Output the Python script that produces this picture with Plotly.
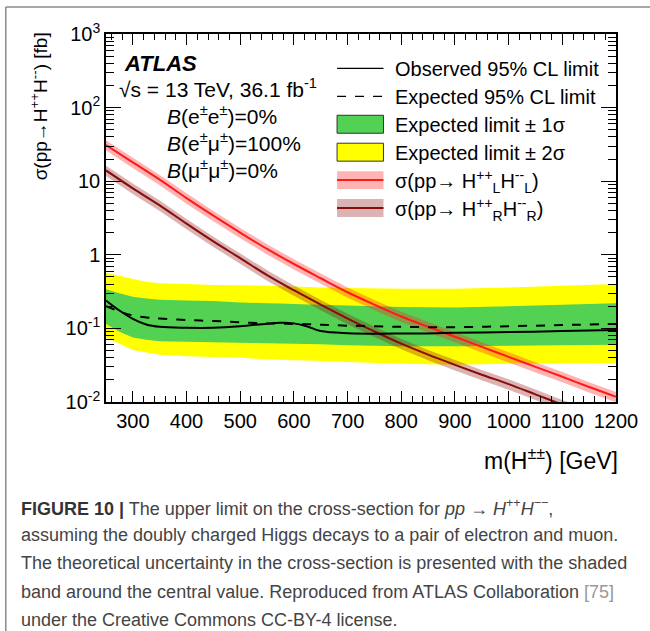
import plotly.graph_objects as go

# ---------------- data ----------------
mass_theory = [250, 300, 350, 400, 450, 500, 550, 600, 650, 700, 750, 800,
               850, 900, 950, 1000, 1050, 1100, 1150, 1200]
xsec_HL = [31, 18, 10.5, 5.9, 3.4, 2.0, 1.2, 0.75, 0.48, 0.31, 0.21, 0.145,
           0.105, 0.077, 0.056, 0.041, 0.030, 0.022, 0.016, 0.0118]
xsec_HR = [14, 8.0, 4.7, 2.65, 1.52, 0.90, 0.53, 0.33, 0.21, 0.136, 0.091, 0.062,
           0.044, 0.032, 0.0235, 0.0175, 0.0127, 0.0092, 0.0068, 0.0050]
theory_rel_unc = [0.16, 0.16, 0.16, 0.16, 0.16, 0.16, 0.16, 0.16, 0.16, 0.16,
                  0.16, 0.16, 0.16, 0.16, 0.16, 0.16, 0.16, 0.16, 0.16, 0.16]

mass_limit = [250, 275, 300, 325, 350, 400, 450, 500, 550, 575, 600, 625, 650,
              700, 800, 900, 1000, 1100, 1200]
observed = [0.24, 0.175, 0.135, 0.113, 0.105, 0.102, 0.102, 0.107, 0.116, 0.119,
            0.117, 0.106, 0.092, 0.086, 0.085, 0.087, 0.089, 0.092, 0.095]
expected = [0.20, 0.17, 0.150, 0.141, 0.136, 0.130, 0.126, 0.121, 0.117, 0.116,
            0.115, 0.114, 0.112, 0.109, 0.105, 0.104, 0.107, 0.111, 0.115]
exp_plus2 = [0.57, 0.52, 0.47, 0.43, 0.41, 0.40, 0.39, 0.385, 0.38, 0.375, 0.37,
             0.365, 0.36, 0.355, 0.345, 0.345, 0.36, 0.38, 0.40]
exp_plus1 = [0.34, 0.30, 0.27, 0.255, 0.245, 0.24, 0.235, 0.225, 0.22, 0.218, 0.215,
             0.212, 0.21, 0.205, 0.195, 0.192, 0.20, 0.21, 0.22]
exp_minus1 = [0.115, 0.09, 0.075, 0.07, 0.067, 0.066, 0.065, 0.064, 0.063, 0.0625,
              0.062, 0.0615, 0.061, 0.059, 0.057, 0.057, 0.058, 0.059, 0.060]
exp_minus2 = [0.075, 0.062, 0.051, 0.047, 0.044, 0.042, 0.041, 0.040, 0.038, 0.0375,
              0.037, 0.0365, 0.036, 0.035, 0.033, 0.032, 0.033, 0.0335, 0.034]

x_ticks = [300, 400, 500, 600, 700, 800, 900, 1000, 1100, 1200]
y_ticks = [0.01, 0.1, 1, 10, 100, 1000]
y_ticktext = ["10<sup>-2</sup>", "10<sup>-1</sup>", "1", "10", "10<sup>2</sup>", "10<sup>3</sup>"]

# ---------------- styling ----------------
FONT = "Liberation Sans, Arial, Helvetica, sans-serif"
W, H = 650, 631
L, R, T, B = 106, 622.5, 33.5, 402.5   # plot area in pixels

def X(px):
    return (px - L) / (R - L)

def Y(py):
    return (B - py) / (B - T)

GREEN = "#52d152"
YELLOW = "#ffff00"
RED = "#ff1a1a"
RED_BAND = "rgba(255,40,40,0.35)"
DARK = "#8b0a0a"
DARK_BAND = "rgba(140,20,20,0.32)"

fig = go.Figure()

def band(xs, lo, hi, color, name):
    fig.add_trace(go.Scatter(
        x=list(xs) + list(xs)[::-1],
        y=list(hi) + list(lo)[::-1],
        fill="toself", fillcolor=color, mode="none",
        line=dict(width=0), hoverinfo="skip", showlegend=False, name=name))

band(mass_limit, exp_minus2, exp_plus2, YELLOW, "2sigma")
band(mass_limit, exp_minus1, exp_plus1, GREEN, "1sigma")

hl_lo = [v * (1 - u) for v, u in zip(xsec_HL, theory_rel_unc)]
hl_hi = [v * (1 + u) for v, u in zip(xsec_HL, theory_rel_unc)]
hr_lo = [v * (1 - u) for v, u in zip(xsec_HR, theory_rel_unc)]
hr_hi = [v * (1 + u) for v, u in zip(xsec_HR, theory_rel_unc)]
band(mass_theory, hr_lo, hr_hi, DARK_BAND, "HR band")
band(mass_theory, hl_lo, hl_hi, RED_BAND, "HL band")

fig.add_trace(go.Scatter(x=mass_theory, y=xsec_HR, mode="lines",
                         line=dict(color=DARK, width=2, shape="spline"),
                         showlegend=False, hoverinfo="skip"))
fig.add_trace(go.Scatter(x=mass_theory, y=xsec_HL, mode="lines",
                         line=dict(color=RED, width=2, shape="spline"),
                         showlegend=False, hoverinfo="skip"))
fig.add_trace(go.Scatter(x=mass_limit, y=expected, mode="lines",
                         line=dict(color="black", width=2, dash="dash", shape="spline"),
                         showlegend=False, hoverinfo="skip"))
fig.add_trace(go.Scatter(x=mass_limit, y=observed, mode="lines",
                         line=dict(color="black", width=2, shape="spline"),
                         showlegend=False, hoverinfo="skip"))

# minor ticks for log axis
y_minor = []
for dec in [0.01, 0.1, 1, 10, 100]:
    for k in range(2, 10):
        y_minor.append(dec * k)

fig.update_xaxes(
    range=[250, 1200], tickmode="array", tickvals=x_ticks,
    ticks="inside", ticklen=11, tickwidth=1.3, tickcolor="black",
    minor=dict(ticks="inside", dtick=20, tick0=0, ticklen=6, tickwidth=1.1, tickcolor="black"),
    showline=True, linecolor="black", linewidth=1.5, mirror="ticks",
    showgrid=False, zeroline=False,
    tickfont=dict(family=FONT, size=20, color="black"),
)
fig.update_yaxes(
    type="log", range=[-2, 3], tickmode="array", tickvals=y_ticks, ticktext=y_ticktext,
    ticks="inside", ticklen=15, tickwidth=1.3, tickcolor="black",
    minor=dict(ticks="inside", tickmode="array", tickvals=y_minor, ticklen=8,
               tickwidth=1.1, tickcolor="black"),
    showline=True, linecolor="black", linewidth=1.5, mirror="ticks",
    showgrid=False, zeroline=False,
    tickfont=dict(family=FONT, size=20, color="black"),
)

ann = []
def text(px, py, s, size=19, xanchor="left", yanchor="middle", color="black", angle=0, family=FONT):
    ann.append(dict(x=X(px), y=Y(py), xref="paper", yref="paper", text=s,
                    showarrow=False, xanchor=xanchor, yanchor=yanchor, textangle=angle,
                    font=dict(family=family, size=size, color=color)))

# axis titles
text(38, 30, "σ(pp→H<sup>++</sup>H<sup>--</sup>) [fb]", size=19, xanchor="center",
     yanchor="top", angle=-90)
text(627, 460, "m(H<sup>±±</sup>) [GeV]", size=23, xanchor="right")

# ATLAS labels
text(122, 63, "<b><i>ATLAS</i></b>", size=22)
text(117, 88, "√s = 13 TeV, 36.1 fb<sup>-1</sup>", size=21)
text(166, 115, "<i>B</i>(e<sup>±</sup>e<sup>±</sup>)=0%", size=21)
text(166, 142, "<i>B</i>(e<sup>±</sup>μ<sup>±</sup>)=100%", size=21)
text(166, 169, "<i>B</i>(μ<sup>±</sup>μ<sup>±</sup>)=0%", size=21)

# legend
shapes = []
lx0, lx1, tx = 340, 387, 397
leg_y = [68, 96, 124, 152, 180, 208]
shapes.append(dict(type="line", xref="paper", yref="paper", x0=X(lx0), x1=X(lx1),
                   y0=Y(leg_y[0]), y1=Y(leg_y[0]), line=dict(color="black", width=1.2)))
shapes.append(dict(type="line", xref="paper", yref="paper", x0=X(lx0), x1=X(lx1),
                   y0=Y(leg_y[1]), y1=Y(leg_y[1]), line=dict(color="black", width=1.2, dash="dash")))
for yy, col in [(leg_y[2], GREEN), (leg_y[3], YELLOW)]:
    shapes.append(dict(type="rect", xref="paper", yref="paper", x0=X(lx0), x1=X(lx1),
                       y0=Y(yy - 9), y1=Y(yy + 9), fillcolor=col,
                       line=dict(color="#333333", width=1)))
for yy, bcol, lcol in [(leg_y[4], RED_BAND, RED), (leg_y[5], DARK_BAND, DARK)]:
    shapes.append(dict(type="rect", xref="paper", yref="paper", x0=X(lx0), x1=X(lx1),
                       y0=Y(yy - 9), y1=Y(yy + 9), fillcolor=bcol, line=dict(width=0)))
    shapes.append(dict(type="line", xref="paper", yref="paper", x0=X(lx0), x1=X(lx1),
                       y0=Y(yy), y1=Y(yy), line=dict(color=lcol, width=2)))

legend_labels = [
    "Observed 95% CL limit",
    "Expected 95% CL limit",
    "Expected limit ± 1σ",
    "Expected limit ± 2σ",
    "σ(pp→ H<sup>++</sup><sub>L</sub>H<sup>--</sup><sub>L</sub>)",
    "σ(pp→ H<sup>++</sup><sub>R</sub>H<sup>--</sup><sub>R</sub>)",
]
for yy, lab in zip(leg_y, legend_labels):
    text(tx, yy + 1, lab, size=20)

# outer frame (top and left)
shapes.append(dict(type="line", xref="paper", yref="paper", x0=X(4.5), x1=X(660),
                   y0=Y(6.5), y1=Y(6.5), line=dict(color="#8a8a8a", width=1.5)))
shapes.append(dict(type="line", xref="paper", yref="paper", x0=X(4.5), x1=X(4.5),
                   y0=Y(6.5), y1=Y(640), line=dict(color="#8a8a8a", width=1.5)))

# caption
cap_font = FONT
cap_col = "#444444"
caption = [
    "<b><span style='color:#333'>FIGURE 10 |</span></b> The upper limit on the cross-section for <i>pp</i> → <i>H</i><sup>++</sup><i>H</i><sup>−−</sup>,",
    "assuming the doubly charged Higgs decays to a pair of electron and muon.",
    "The theoretical uncertainty in the cross-section is presented with the shaded",
    "band around the central value. Reproduced from ATLAS Collaboration <span style='color:#999'>[75]</span>",
    "under the Creative Commons CC-BY-4 license.",
]
for i, line in enumerate(caption):
    text(18, 508 + i * 28.2, line, size=18, color=cap_col, family=cap_font)

fig.update_layout(
    width=W, height=H,
    margin=dict(l=L, r=W - R, t=T, b=H - B, pad=0),
    paper_bgcolor="white", plot_bgcolor="white",
    showlegend=False,
    annotations=ann, shapes=shapes,
    font=dict(family=FONT, color="black"),
)

fig.write_html("out.html")
